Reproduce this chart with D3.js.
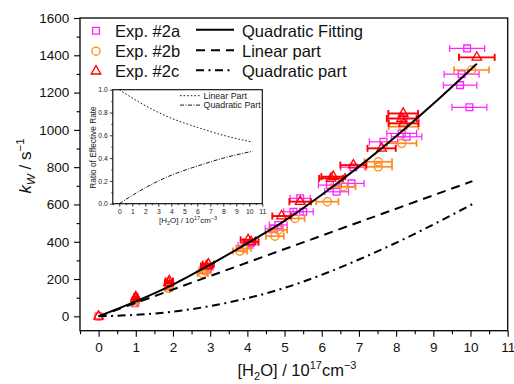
<!DOCTYPE html>
<html><head><meta charset="utf-8">
<script src="https://cdn.jsdelivr.net/npm/d3@7"></script>
<style>
html,body{margin:0;padding:0;background:#fff;}
svg{display:block;font-family:"Liberation Sans",Arial,sans-serif;}
</style></head>
<body><svg id="chart" width="514" height="384"></svg>
<script>
// ---------- data ----------
const seriesNames = ["Exp. #2a", "Exp. #2b", "Exp. #2c"];
const seriesColors = ["#ff22ff", "#ff8a1e", "#ff0000"];
// Exp. #2a (magenta squares)
const aX    = [0, 0.98, 1.0, 1.9, 1.92, 2.88, 2.93, 3.95, 4.1, 4.72, 4.83, 5.24, 5.42, 5.5, 6.22, 6.4, 6.8, 6.85, 7.66, 8.15, 8.28, 8.2, 9.91, 9.76, 9.72, 9.97];
const aY    = [0, 70, 85, 160, 175, 250, 265, 380, 395, 470, 490, 561, 633, 561, 704, 668, 713, 800, 936, 981, 963, 1061, 1437, 1299, 1240, 1121];
const aErr  = [0.0, 0.05, 0.05, 0.1, 0.1, 0.15, 0.15, 0.2, 0.2, 0.24, 0.24, 0.26, 0.27, 0.27, 0.31, 0.32, 0.34, 0.34, 0.38, 0.4, 0.41, 0.41, 0.47, 0.47, 0.45, 0.47];
// Exp. #2b (orange circles)
const bX    = [0, 0.97, 1.0, 1.88, 1.9, 2.8, 2.85, 3.8, 3.9, 4.74, 4.83, 5.28, 6.15, 6.58, 7.52, 7.52, 8.15, 8.2, 10.03];
const bY    = [0, 75, 90, 150, 165, 230, 245, 350, 365, 430, 463, 525, 615, 695, 829, 802, 928, 1017, 1321];
const bErr  = [0.0, 0.05, 0.05, 0.1, 0.1, 0.14, 0.15, 0.19, 0.2, 0.24, 0.24, 0.26, 0.3, 0.33, 0.37, 0.37, 0.4, 0.4, 0.47];
// Exp. #2c (red triangles)
const cX    = [0, 1.0, 1.0, 1.88, 1.9, 2.95, 2.9, 4.02, 4.1, 4.92, 5.42, 6.31, 6.25, 6.85, 7.61, 8.19, 8.15, 8.2, 10.17];
const cY    = [0, 105, 95, 180, 190, 280, 270, 410, 400, 538, 615, 749, 740, 811, 901, 1088, 1061, 1035, 1389];
const cErr  = [0.0, 0.05, 0.05, 0.1, 0.1, 0.15, 0.15, 0.2, 0.2, 0.25, 0.29, 0.32, 0.32, 0.35, 0.38, 0.4, 0.4, 0.4, 0.48];
// fitted curves
const fitX   = [0, 1, 2, 2.9, 3.94, 5, 6, 7, 8, 9, 10.17];
const fitY   = [0, 80, 170, 266, 385, 512, 652, 803, 966, 1140, 1355];
const linX   = [0, 10.05];
const linY   = [0, 725];
const quadX  = [0, 2, 4.88, 7.57, 10.12];
const quadY  = [0, 25, 145, 355, 609];
const legendLines = ["Quadratic Fitting", "Linear part", "Quadratic part"];
// inset
const insX      = [0, 2, 4, 6, 8, 10.25];
const insLinY   = [1.0, 0.86, 0.75, 0.67, 0.60, 0.54];
const insQuadY  = [0.0, 0.14, 0.25, 0.33, 0.40, 0.46];
const insLegend = ["Linear Part", "Quadratic Part"];
const xTicks = [0,1,2,3,4,5,6,7,8,9,10,11];
const yTicks = [0,200,400,600,800,1000,1200,1400,1600];
const insYTicks = [0,0.2,0.4,0.6,0.8,1.0];

// ---------- drawing ----------
const svg = d3.select("#chart");
const L=80, R=507.7, T=18, B=330.7;
const x = d3.scaleLinear().domain([-0.5, 11]).range([L, R]);
const y = d3.scaleLinear().domain([-77, 1600]).range([B, T]);
const tickFont = "13.5px";

// minor ticks
const xMinor = d3.range(-0.5, 11.01, 0.5).filter(v => Math.abs(v - Math.round(v)) > 1e-6);
const yMinor = d3.range(100, 1600, 200);
const gxm = svg.append("g").attr("transform", `translate(0,${B})`)
  .call(d3.axisBottom(x).tickValues(xMinor).tickSize(3.5).tickFormat(""));
const gym = svg.append("g").attr("transform", `translate(${L},0)`)
  .call(d3.axisLeft(y).tickValues(yMinor).tickSize(3.5).tickFormat(""));
const gx = svg.append("g").attr("transform", `translate(0,${B})`)
  .call(d3.axisBottom(x).tickValues(xTicks).tickSize(6).tickPadding(5.4).tickFormat(d3.format("d")));
const gy = svg.append("g").attr("transform", `translate(${L},0)`)
  .call(d3.axisLeft(y).tickValues(yTicks).tickSize(6).tickPadding(4.7).tickFormat(d3.format("d")));
[gxm, gym, gx, gy].forEach(g => {
  g.select(".domain").remove();
  g.selectAll(".tick line").attr("stroke", "#000").attr("stroke-width", 1.1);
  g.selectAll("text").attr("font-size", tickFont).attr("fill", "#111")
    .attr("font-family", '"Liberation Sans",Arial,sans-serif');
});
// frame
svg.append("rect").attr("x", L).attr("y", T).attr("width", R - L).attr("height", B - T)
  .attr("fill", "none").attr("stroke", "#000").attr("stroke-width", 1.3);

// axis titles
const xt = svg.append("text").attr("x", 297).attr("y", 376).attr("text-anchor", "middle")
  .attr("font-size", "16.5px").attr("fill", "#111");
xt.append("tspan").text("[H");
xt.append("tspan").attr("font-size", "11px").attr("dy", 4).text("2");
xt.append("tspan").attr("dy", -4).text("O] / 10");
xt.append("tspan").attr("font-size", "11px").attr("dy", -7).text("17");
xt.append("tspan").attr("dy", 7).text("cm");
xt.append("tspan").attr("font-size", "11px").attr("dy", -7).text("\u22123");

const yt = svg.append("text").attr("transform", "translate(31,166) rotate(-90)")
  .attr("text-anchor", "middle").attr("font-size", "17px").attr("fill", "#111");
yt.append("tspan").attr("font-style", "italic").text("k");
yt.append("tspan").attr("font-style", "italic").attr("font-size", "11.5px").attr("dy", 4).text("W");
yt.append("tspan").attr("dy", -4).text(" / s");
yt.append("tspan").attr("font-size", "11.5px").attr("dy", -7).text("\u22121");

// ---------- inset ----------
const iL=112.8, iR=262.3, iT=89.7, iB=203.7;
const ix = d3.scaleLinear().domain([-0.5, 11]).range([iL, iR]);
const iy = d3.scaleLinear().domain([0, 1]).range([iB, iT]);
const ixm = svg.append("g").attr("transform", `translate(0,${iB})`)
  .call(d3.axisBottom(ix).tickValues(d3.range(-0.5, 11.01, 0.5).filter(v => Math.abs(v - Math.round(v)) > 1e-6)).tickSize(1.5).tickFormat(""));
const iym = svg.append("g").attr("transform", `translate(${iL},0)`)
  .call(d3.axisLeft(iy).tickValues([0.1,0.3,0.5,0.7,0.9]).tickSize(1.5).tickFormat(""));
const ixa = svg.append("g").attr("transform", `translate(0,${iB})`)
  .call(d3.axisBottom(ix).tickValues(xTicks).tickSize(3).tickPadding(2.5).tickFormat(d3.format("d")));
const iya = svg.append("g").attr("transform", `translate(${iL},0)`)
  .call(d3.axisLeft(iy).tickValues(insYTicks).tickSize(3).tickPadding(2).tickFormat(d3.format(".1f")));
[ixm, iym, ixa, iya].forEach(g => {
  g.select(".domain").remove();
  g.selectAll(".tick line").attr("stroke", "#000").attr("stroke-width", 0.8);
  g.selectAll("text").attr("font-size", "6.8px").attr("fill", "#222")
    .attr("font-family", '"Liberation Sans",Arial,sans-serif');
});
svg.append("rect").attr("x", iL).attr("y", iT).attr("width", iR - iL).attr("height", iB - iT)
  .attr("fill", "#fff").attr("fill-opacity", 0).attr("stroke", "#000").attr("stroke-width", 1.1);

const ilineLin = d3.line().x((d, i) => ix(insX[i])).y(d => iy(d)).curve(d3.curveMonotoneX);
svg.append("path").attr("d", ilineLin(insLinY)).attr("fill", "none").attr("stroke", "#000")
  .attr("stroke-width", 0.9).attr("stroke-dasharray", "1.6,2");
svg.append("path").attr("d", ilineLin(insQuadY)).attr("fill", "none").attr("stroke", "#000")
  .attr("stroke-width", 0.9).attr("stroke-dasharray", "4,1.5,1,1.5");

// inset legend
const insDash = ["1.6,2", "4,1.5,1,1.5"];
insLegend.forEach((t, i) => {
  const yy = 95.7 + i * 9.4;
  svg.append("line").attr("x1", 180).attr("x2", 201).attr("y1", yy).attr("y2", yy)
    .attr("stroke", "#000").attr("stroke-width", 0.9).attr("stroke-dasharray", insDash[i]);
  svg.append("text").attr("x", 203.5).attr("y", yy + 3).attr("font-size", "8.9px")
    .attr("fill", "#222").text(t);
});
// inset axis titles
const ixt = svg.append("text").attr("x", 188).attr("y", 223).attr("text-anchor", "middle")
  .attr("font-size", "8px").attr("fill", "#222");
ixt.append("tspan").text("[H");
ixt.append("tspan").attr("font-size", "5.5px").attr("dy", 2).text("2");
ixt.append("tspan").attr("dy", -2).text("O] / 10");
ixt.append("tspan").attr("font-size", "5.5px").attr("dy", -3.5).text("17");
ixt.append("tspan").attr("dy", 3.5).text("cm");
ixt.append("tspan").attr("font-size", "5.5px").attr("dy", -3.5).text("\u22123");
svg.append("text").attr("transform", "translate(96,147.5) rotate(-90)").attr("text-anchor", "middle")
  .attr("font-size", "8.3px").attr("fill", "#222").text("Ratio of Effective Rate");

// ---------- data points with x error bars ----------
const series = [
  {xs: aX, ys: aY, es: aErr, sym: d3.symbolSquare, size: 46, bw: 1.2},
  {xs: bX, ys: bY, es: bErr, sym: d3.symbolCircle, size: 52, bw: 1.7},
  {xs: cX, ys: cY, es: cErr, sym: d3.symbolTriangle, size: 40, bw: 1.9}
];
series.forEach((s, k) => {
  const g = svg.append("g");
  const col = seriesColors[k];
  s.xs.forEach((xv, i) => {
    const e = s.es[i];
    if (e > 0) {
      const x0 = x(xv - e), x1 = x(xv + e), yy = y(s.ys[i]);
      g.append("line").attr("x1", x0).attr("x2", x1).attr("y1", yy).attr("y2", yy)
        .attr("stroke", col).attr("stroke-width", s.bw);
      [x0, x1].forEach(xc => g.append("line").attr("x1", xc).attr("x2", xc)
        .attr("y1", yy - 3.5).attr("y2", yy + 3.5).attr("stroke", col).attr("stroke-width", s.bw));
    }
    g.append("path").attr("d", d3.symbol().type(s.sym).size(s.size)())
      .attr("transform", `translate(${x(xv)},${y(s.ys[i])})`)
      .attr("fill", "none").attr("stroke", col).attr("stroke-width", 1.3);
  });
});

// ---------- fitted lines ----------
const mk = (xs) => d3.line().x((d, i) => x(xs[i])).y(d => y(d)).curve(d3.curveMonotoneX);
svg.append("path").attr("d", mk(fitX)(fitY)).attr("fill", "none").attr("stroke", "#000").attr("stroke-width", 2);
svg.append("path").attr("d", mk(linX)(linY)).attr("fill", "none").attr("stroke", "#000").attr("stroke-width", 2)
  .attr("stroke-dasharray", "9,6");
svg.append("path").attr("d", mk(quadX)(quadY)).attr("fill", "none").attr("stroke", "#000").attr("stroke-width", 2)
  .attr("stroke-dasharray", "8,4.5,2,4.5");

// ---------- legend ----------
const legY = [30.7, 51.2, 71.2];
seriesNames.forEach((n, k) => {
  svg.append("path").attr("d", d3.symbol().type(series[k].sym).size(series[k].size)())
    .attr("transform", `translate(96,${legY[k]})`)
    .attr("fill", "none").attr("stroke", seriesColors[k]).attr("stroke-width", 1.3);
  svg.append("text").attr("x", 115).attr("y", legY[k] + 6).attr("font-size", "16.5px").attr("fill", "#111").text(n);
});
const legDash = [null, "9,6", "8,4.5,2,4.5"];
legendLines.forEach((n, k) => {
  const l = svg.append("line").attr("x1", 196).attr("x2", 234).attr("y1", legY[k] - 1).attr("y2", legY[k] - 1)
    .attr("stroke", "#000").attr("stroke-width", 2);
  if (legDash[k]) l.attr("stroke-dasharray", legDash[k]);
  svg.append("text").attr("x", 242).attr("y", legY[k] + 6).attr("font-size", "16.5px").attr("fill", "#111").text(n);
});
</script></body></html>
